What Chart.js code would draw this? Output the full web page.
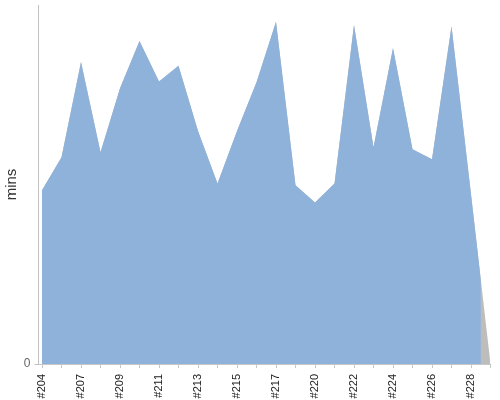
<!DOCTYPE html>
<html>
<head>
<meta charset="utf-8">
<script src="https://cdn.jsdelivr.net/npm/chart.js@4"></script>
<style>
  body { margin: 0; background: #fff; }
</style>
</head>
<body>
<canvas id="chart" width="500" height="400"></canvas>
<script>
// builds, one per point
const runs = [
  '#204', '#206', '#207', '#208', '#209', '#210', '#211', '#212',
  '#213', '#214', '#215', '#216', '#217', '#219', '#220', '#221',
  '#222', '#223', '#224', '#225', '#226', '#227', '#228', '#229'
];

// build duration (mins)
const durations = [
  48.4, 57.6, 84.1, 59.0, 76.8, 90.0, 78.7, 83.1,
  64.9, 50.3, 64.9, 78.5, 95.3, 49.8, 45.0, 50.3,
  94.4, 60.4, 88.0, 59.8, 57.0, 94.1, 47.3, 0
];

// finished builds end here, the rest is shown in grey
const finishedUntil = 22.5;

const yMax = 100;

// clip the blue dataset (drawn after the grey one) at finishedUntil
const cutPlugin = {
  id: 'cut',
  afterDatasetDraw(chart, args) {
    const ctx = chart.ctx;
    if (args.index === 1) {
      const a = chart.chartArea;
      const x = chart.scales.x.getPixelForValue(finishedUntil);
      ctx.save();
      ctx.beginPath();
      ctx.rect(a.left - 1, a.top - 1, x - a.left + 1, a.bottom - a.top + 2);
      ctx.clip();
    } else if (args.index === 0) {
      ctx.restore();
    }
  }
};

const points = durations.map((v, i) => ({ x: i, y: v }));

new Chart(document.getElementById('chart'), {
  type: 'line',
  data: {
    datasets: [
      {
        label: 'finished',
        data: points,
        backgroundColor: '#8fb2da',
        borderWidth: 0,
        pointRadius: 0,
        fill: 'origin'
      },
      {
        label: 'running',
        data: points,
        backgroundColor: '#bdbdbd',
        borderWidth: 0,
        pointRadius: 0,
        fill: 'origin'
      }
    ]
  },
  options: {
    responsive: false,
    animation: false,
    devicePixelRatio: 1,
    layout: { padding: { top: 5, right: 9.5, left: 0, bottom: 0 } },
    plugins: {
      legend: { display: false },
      tooltip: { enabled: false }
    },
    scales: {
      x: {
        type: 'linear',
        min: -0.18,
        max: runs.length - 1,
        afterFit: s => {
          s.height = 36;
          s.paddingLeft = 0;
          s.paddingRight = 0;
        },
        border: { display: true, color: '#c8c8c8' },
        grid: { display: true, drawOnChartArea: false, drawTicks: true, tickLength: 4, color: '#c8c8c8' },
        ticks: {
          stepSize: 1,
          includeBounds: false,
          autoSkip: false,
          minRotation: 90,
          maxRotation: 90,
          padding: 6,
          color: '#222',
          font: { family: 'Liberation Sans', size: 11 },
          callback: v => (v % 2 === 0 ? runs[v] : '')
        }
      },
      y: {
        min: 0,
        max: yMax,
        afterFit: s => {
          s.width = 38.5;
          s.paddingTop = 0;
          s.paddingBottom = 0;
        },
        afterBuildTicks: s => { s.ticks = [{ value: 0 }]; },
        border: { display: true, color: '#c0c0c0' },
        grid: { display: true, drawOnChartArea: false, drawTicks: true, tickLength: 4, color: '#c0c0c0' },
        ticks: {
          padding: 4,
          color: '#666',
          font: { family: 'Liberation Sans', size: 12 },
          callback: v => String(v)
        },
        title: {
          display: true,
          text: 'mins',
          color: '#333',
          padding: { top: 3, bottom: 0 },
          font: { family: 'Liberation Sans', size: 15 }
        }
      }
    }
  },
  plugins: [cutPlugin]
});
</script>
</body>
</html>
